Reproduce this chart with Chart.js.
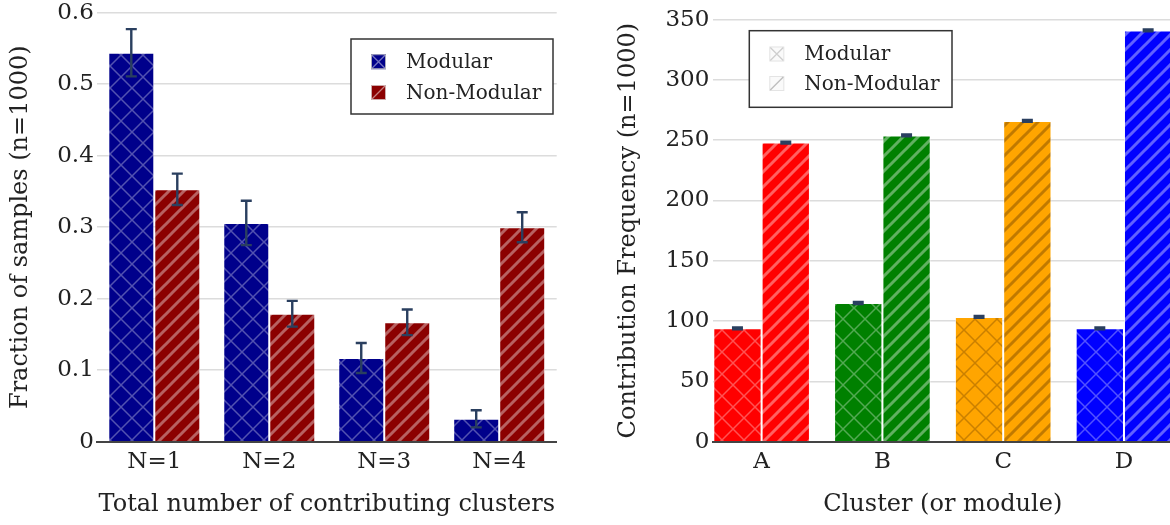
<!DOCTYPE html>
<html><head><meta charset="utf-8">
<script src="https://cdn.jsdelivr.net/npm/chart.js@4.4.1/dist/chart.umd.min.js"></script>
<style>
html,body{margin:0;padding:0;background:#fff;overflow:hidden;width:1170px;height:525px;position:relative}
#c1{position:absolute;left:0;top:0}
#c2{position:absolute;left:590px;top:0}
</style></head><body>
<canvas id="c1" width="580" height="525"></canvas>
<canvas id="c2" width="600" height="525"></canvas>
<script>
// ---------- data ----------
const leftCategories = ['N=1', 'N=2', 'N=3', 'N=4'];
const leftModular = [0.544, 0.306, 0.117, 0.032];
const leftModularErr = [0.033, 0.031, 0.021, 0.012];
const leftNonModular = [0.353, 0.179, 0.167, 0.300];
const leftNonModularErr = [0.022, 0.018, 0.018, 0.021];
const leftYTicks = [0, 0.1, 0.2, 0.3, 0.4, 0.5, 0.6];

const rightCategories = ['A', 'B', 'C', 'D'];
const rightModular = [94, 115, 103.5, 94];
const rightModularErr = [0.8, 0.8, 0.8, 0.8];
const rightNonModular = [248, 254, 266, 341];
const rightNonModularErr = [0.8, 0.8, 0.8, 0.8];
const rightYTicks = [0, 50, 100, 150, 200, 250, 300, 350];

const seriesNames = ['Modular', 'Non-Modular'];
const clusterColors = ['#ff0000', '#008000', '#ffa500', '#0000ff'];

// ---------- styling helpers ----------
Chart.defaults.font.family = '"DejaVu Serif", serif';
Chart.defaults.color = '#222';
const TEXT = '#222';
const ERR = '#2a3f5f';
const TICK_SIZE = 23, TITLE_SIZE = 24;

function hatchColor(bg, a) { return bg === '#ffa500' ? 'rgba(90,50,0,' + a + ')' : 'rgba(255,255,255,' + a + ')'; }

function makePattern(bg, kind, line, size, lw) {
  const c = document.createElement('canvas');
  c.width = size; c.height = size;
  const g = c.getContext('2d');
  g.fillStyle = bg; g.fillRect(0, 0, size, size);
  g.strokeStyle = line; g.lineWidth = lw;
  g.beginPath();
  if (kind === 'x') {
    g.moveTo(-1, -1); g.lineTo(size + 1, size + 1);
    g.moveTo(size + 1, -1); g.lineTo(-1, size + 1);
  } else {
    g.moveTo(-1, size + 1); g.lineTo(size + 1, -1);
    g.moveTo(-4, 4); g.lineTo(4, -4);
    g.moveTo(size - 4, size + 4); g.lineTo(size + 4, size - 4);
  }
  g.stroke();
  return g.createPattern(c, 'repeat');
}

const errorBars = {
  id: 'errorBars',
  afterDatasetsDraw(chart) {
    const ctx = chart.ctx, yS = chart.scales.y;
    ctx.save();
    ctx.strokeStyle = ERR; ctx.lineWidth = 2.4;
    chart.data.datasets.forEach((ds, di) => {
      const meta = chart.getDatasetMeta(di);
      meta.data.forEach((el, i) => {
        const v = ds.data[i], e = ds.errors[i];
        const yt = yS.getPixelForValue(v + e), yb = yS.getPixelForValue(v - e);
        ctx.beginPath();
        ctx.moveTo(el.x, yt); ctx.lineTo(el.x, yb);
        ctx.moveTo(el.x - 5.5, yt); ctx.lineTo(el.x + 5.5, yt);
        ctx.moveTo(el.x - 5.5, yb); ctx.lineTo(el.x + 5.5, yb);
        ctx.stroke();
      });
    });
    ctx.restore();
  }
};

const boxLegend = {
  id: 'boxLegend',
  afterDraw(chart, args, o) {
    const ctx = chart.ctx;
    ctx.save();
    ctx.fillStyle = '#fff';
    ctx.fillRect(o.x, o.y, o.w, o.h);
    ctx.strokeStyle = '#333'; ctx.lineWidth = 1.5;
    ctx.strokeRect(o.x, o.y, o.w, o.h);
    chart.data.datasets.forEach((ds, i) => {
      const cy = o.y + o.row0 + i * o.gap;
      const sx = o.x + 20, sy = cy - 7.5;
      ctx.fillStyle = o.fill[i];
      ctx.fillRect(sx, sy, 15, 15);
      ctx.strokeStyle = o.border[i]; ctx.lineWidth = 1;
      ctx.strokeRect(sx + 0.5, sy + 0.5, 14, 14);
      ctx.strokeStyle = o.mark[i]; ctx.lineWidth = 1.3;
      ctx.beginPath();
      if (ds.hatch === 'x') {
        ctx.moveTo(sx + 1, sy + 1); ctx.lineTo(sx + 14, sy + 14);
        ctx.moveTo(sx + 14, sy + 1); ctx.lineTo(sx + 1, sy + 14);
      } else {
        ctx.moveTo(sx + 1, sy + 14); ctx.lineTo(sx + 14, sy + 1);
      }
      ctx.stroke();
      ctx.fillStyle = TEXT;
      ctx.font = '20px "DejaVu Serif"';
      ctx.textBaseline = 'middle'; ctx.textAlign = 'left';
      ctx.fillText(ds.label, o.x + 55, cy + 1);
    });
    ctx.restore();
  }
};

function axes(xTitle, yTitle, yMax, yTicks, yWidth, yTitlePad, yTickPad, xRange) {
  const x = {
    grid: { display: false, drawTicks: false },
    border: { display: true, color: '#444', width: 2 },
    ticks: { color: TEXT, font: { size: TICK_SIZE }, padding: 7 },
    title: { display: true, text: xTitle, color: TEXT, font: { size: TITLE_SIZE }, padding: { top: 0, bottom: 6 } },
    afterFit: s => { s.height = 83.3; s.paddingLeft = 0; s.paddingRight = 0; }
  };
  if (xRange) {
    x.afterBuildTicks = s => { s._startValue = xRange[0]; s._valueRange = xRange[1] - xRange[0]; };
  }
  return {
    x,
    y: {
      min: 0, max: yMax,
      afterBuildTicks: s => { s.ticks = yTicks.map(v => ({ value: v })); },
      grid: { color: '#dcdcdc', lineWidth: 1.5, drawTicks: false },
      border: { display: false },
      ticks: { color: TEXT, font: { size: TICK_SIZE }, padding: yTickPad },
      title: { display: true, text: yTitle, color: TEXT, font: { size: TITLE_SIZE }, padding: { top: yTitlePad, bottom: 0 } },
      afterFit: s => { s.width = yWidth; s.paddingTop = 0; s.paddingBottom = 0; }
    }
  };
}

const barBorder = 'rgba(255,255,255,0.55)';

// ---------- left chart ----------
new Chart(document.getElementById('c1'), {
  type: 'bar',
  data: {
    labels: leftCategories,
    datasets: [
      { label: seriesNames[0], hatch: 'x', data: leftModular, errors: leftModularErr,
        backgroundColor: makePattern('#00008b', 'x', 'rgba(255,255,255,0.32)', 22, 1.5),
        borderColor: barBorder, borderWidth: 1, categoryPercentage: 0.8, barPercentage: 1 },
      { label: seriesNames[1], hatch: '/', data: leftNonModular, errors: leftNonModularErr,
        backgroundColor: makePattern('#8b0000', '/', 'rgba(255,255,255,0.38)', 15, 3),
        borderColor: barBorder, borderWidth: 1, categoryPercentage: 0.8, barPercentage: 1 }
    ]
  },
  options: {
    responsive: false, animation: false, devicePixelRatio: 1,
    layout: { padding: { left: 0, right: 23.3, top: 12.7, bottom: 0 } },
    plugins: {
      legend: { display: false }, tooltip: { enabled: false },
      boxLegend: { x: 351, y: 39, w: 202, h: 75, row0: 22.7, gap: 30.8,
        fill: ['#00008b', '#8b0000'], border: ['#aab', '#caa'], mark: ['rgba(255,255,255,0.45)', 'rgba(255,255,255,0.5)'] }
    },
    scales: axes('Total number of contributing clusters', 'Fraction of samples (n=1000)', 0.6, leftYTicks, 96.8, 6.6, 3, null)
  },
  plugins: [errorBars, boxLegend]
});

// ---------- right chart ----------
new Chart(document.getElementById('c2'), {
  type: 'bar',
  data: {
    labels: rightCategories,
    datasets: [
      { label: seriesNames[0], hatch: 'x', data: rightModular, errors: rightModularErr,
        backgroundColor: clusterColors.map(c => makePattern(c, 'x', hatchColor(c, 0.32), 22, 1.5)),
        borderColor: barBorder, borderWidth: 1, categoryPercentage: 0.8, barPercentage: 1 },
      { label: seriesNames[1], hatch: '/', data: rightNonModular, errors: rightNonModularErr,
        backgroundColor: clusterColors.map(c => makePattern(c, '/', hatchColor(c, 0.38), 15, 3)),
        borderColor: barBorder, borderWidth: 1, categoryPercentage: 0.8, barPercentage: 1 }
    ]
  },
  options: {
    responsive: false, animation: false, devicePixelRatio: 1,
    layout: { padding: { left: 0, right: 17.7, top: 19.6, bottom: 0 } },
    plugins: {
      legend: { display: false }, tooltip: { enabled: false },
      boxLegend: { x: 159.3, y: 30.7, w: 202.7, h: 76.6, row0: 23.3, gap: 29.5,
        fill: ['#fafafa', '#fafafa'], border: ['#e4e4e4', '#e4e4e4'], mark: ['#cfcfcf', '#bdbdbd'] }
    },
    scales: axes('Cluster (or module)', 'Contribution Frequency (n=1000)', 350, rightYTicks, 123.3, 24.6, 4, [-0.4, 3.4])
  },
  plugins: [errorBars, boxLegend]
});
</script>
</body></html>
